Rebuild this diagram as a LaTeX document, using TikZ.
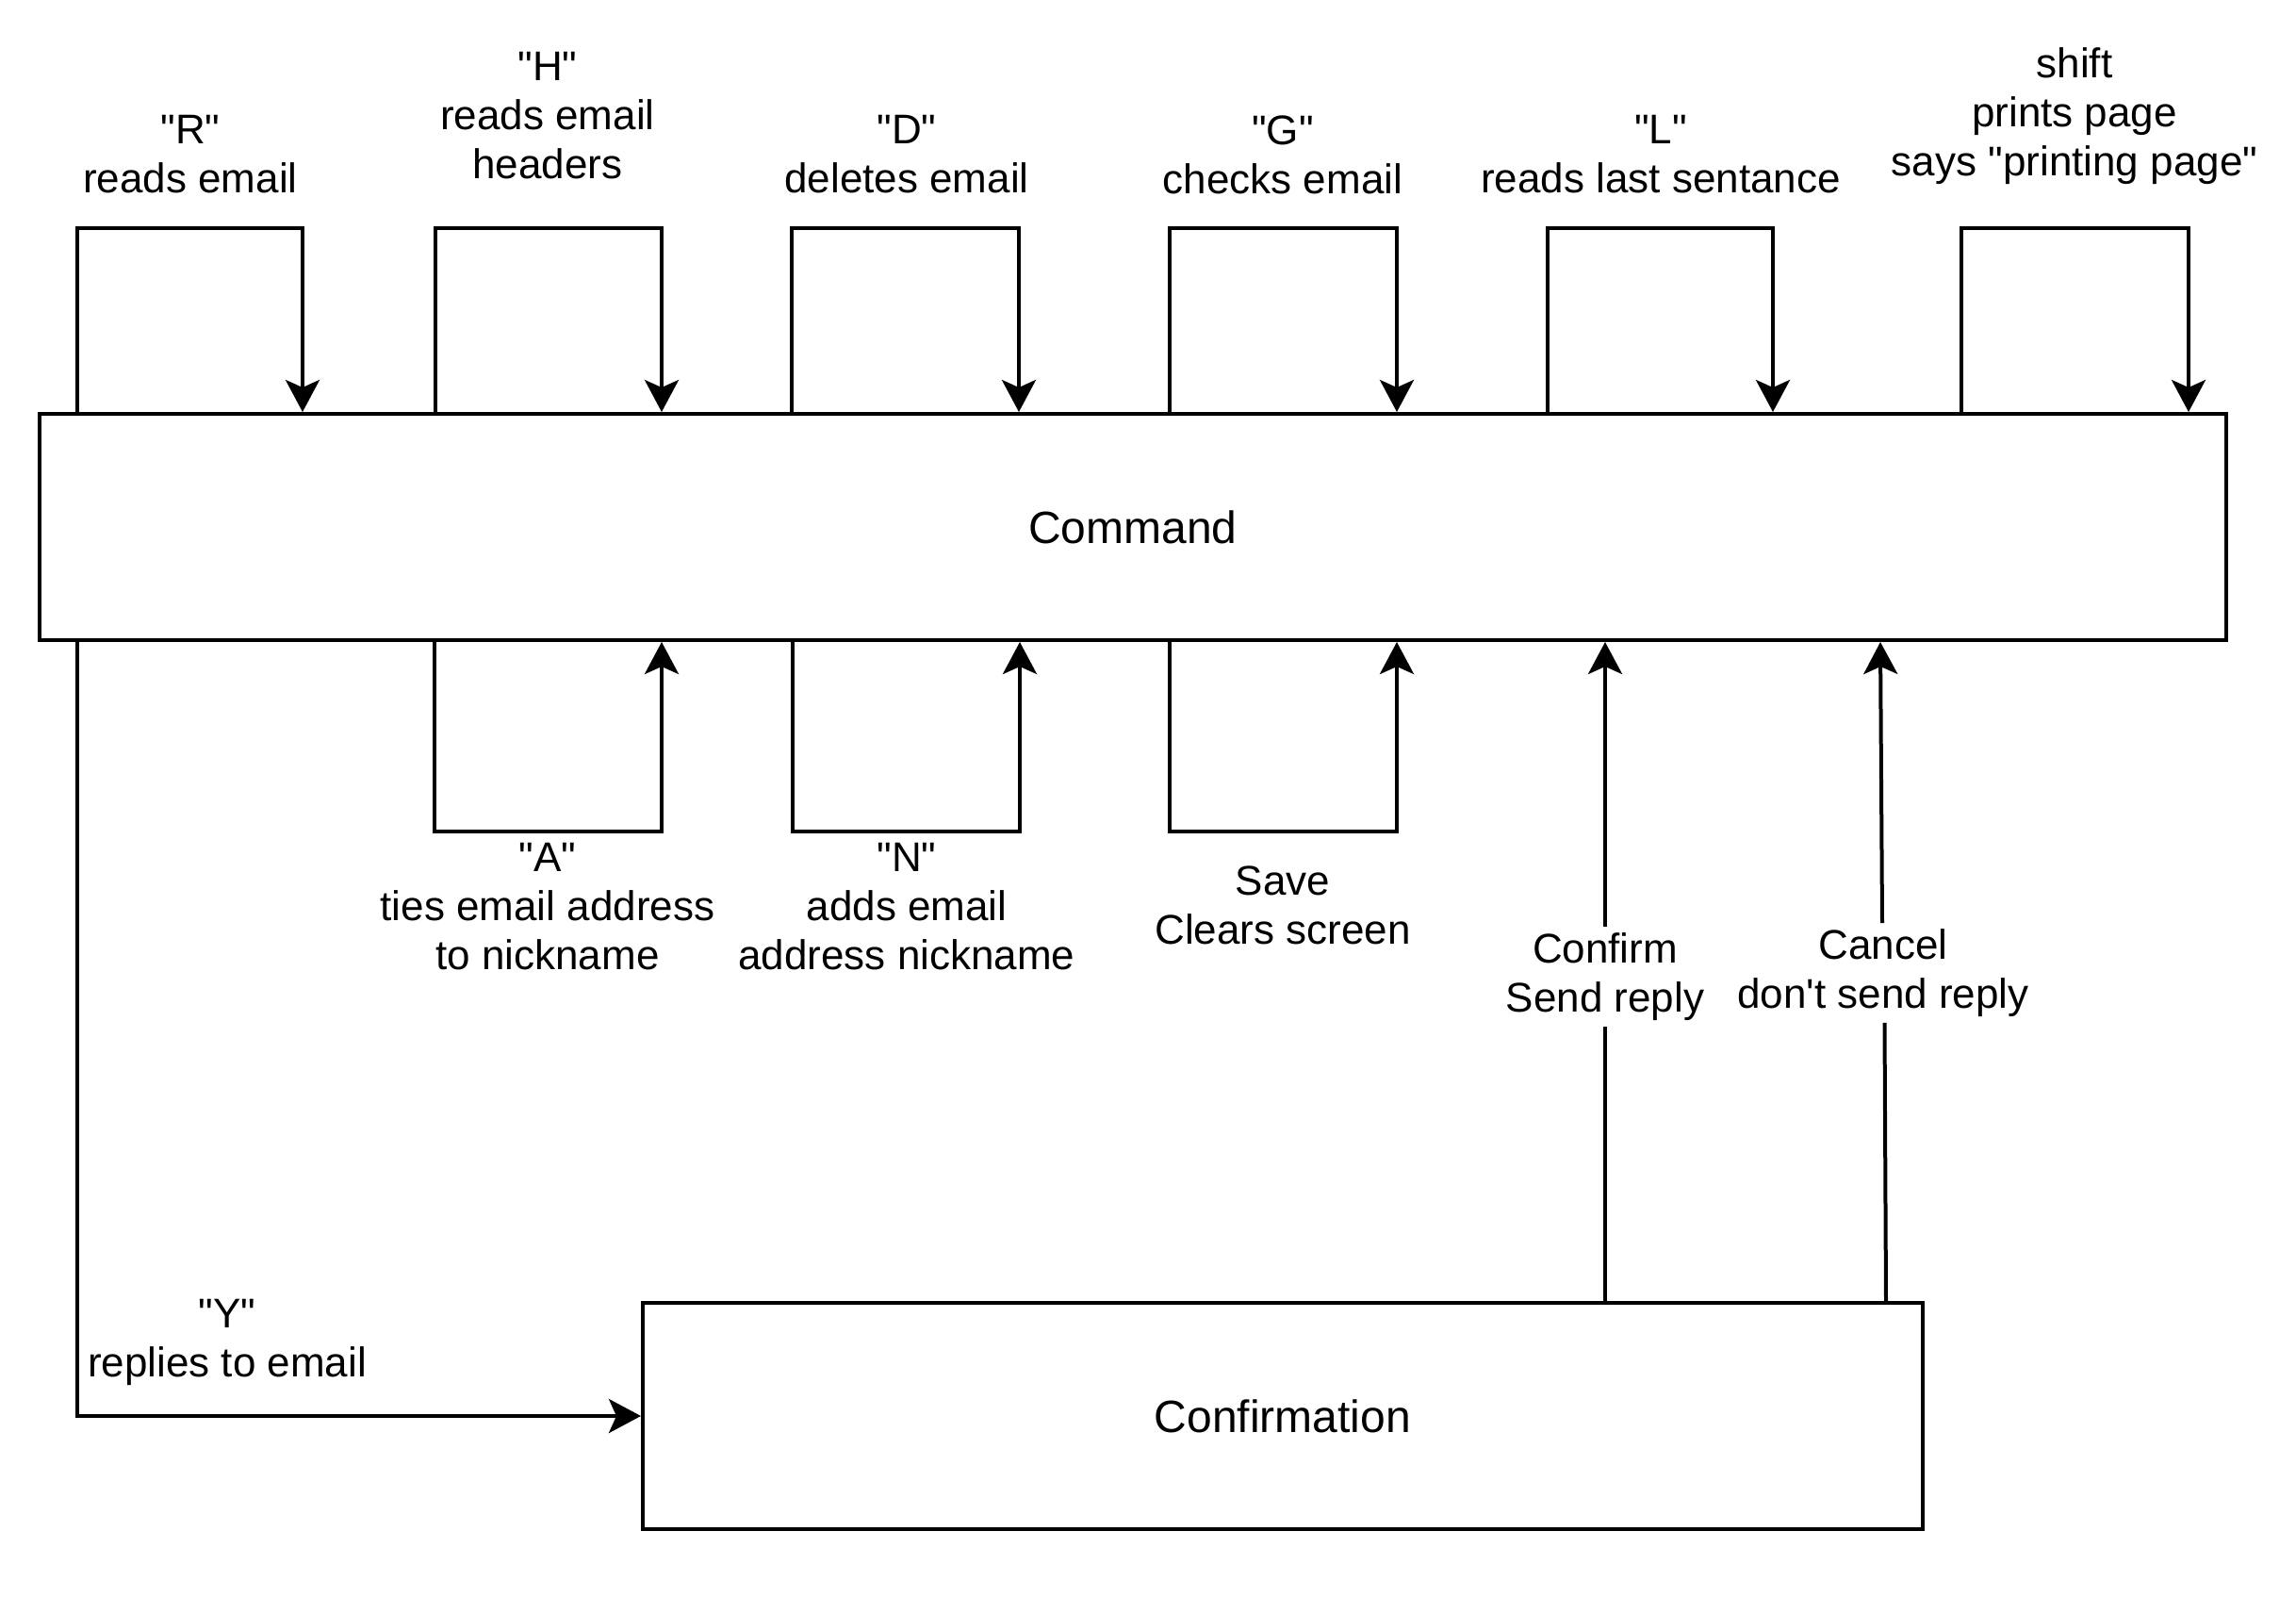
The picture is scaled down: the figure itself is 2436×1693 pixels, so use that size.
\documentclass[tikz,border=0pt]{standalone}
\usepackage{fontspec}
% plain family: keeps straight quotes and apostrophes
\newfontfamily\lsans{Liberation Sans}
\usetikzlibrary{arrows.meta}

\begin{document}
\begin{tikzpicture}[x=0.5pt,y=-0.5pt,
  every node/.style={font=\lsans\fontsize{22pt}{26pt}\selectfont},
  box/.style={draw,line width=2pt,rectangle,minimum height=120pt,inner sep=0pt,
    font=\lsans\fontsize{24pt}{28pt}\selectfont},
  lbl/.style={align=center,inner sep=0pt},
  wire/.style={line width=2pt},
  arr/.style={wire,-{Stealth[length=17pt,width=18pt,inset=4pt]}}]

\useasboundingbox (0,0) rectangle (2436,1693);

% main boxes
\node[box,minimum width=1160pt] (cmd) at (1202,559) {Command};
\node[box,minimum width=679pt] (conf) at (1361,1502) {Confirmation};

% self loops above the Command box
\foreach \n/\a/\b in {R/82/321, H/462/702, D/840/1081, G/1241/1482, L/1642/1881, S/2081/2322}{
  \coordinate (\n1) at (\a,242);
  \coordinate (\n2) at (\b,242);
  \draw[arr] (\n1 |- cmd.north) -- (\n1) -- (\n2) -- (\n2 |- cmd.north);
}

% self loops below the Command box
\foreach \n/\a/\b in {A/461/702, N/841/1082, V/1241/1482}{
  \coordinate (\n1) at (\a,882);
  \coordinate (\n2) at (\b,882);
  \draw[arr] (\n1 |- cmd.south) -- (\n1) -- (\n2) -- (\n2 |- cmd.south);
}

% labels of the loops
\node[lbl] (lR) at (202,164) {"R"\\reads email};
\node[lbl] (lH) at (581,123) {"H"\\reads email\\headers};
\node[lbl] (lD) at (962,164) {"D"\\deletes email};
\node[lbl] (lG) at (1361,164) {"G"\\checks email};
\node[lbl] (lL) at (1762,164) {"L"\\reads last sentance};
\node[lbl] (lS) at (2201,123) {shift\\prints page\\says "printing page"};
\node[lbl] (lA) at (581,962) {"A"\\ties email address\\to nickname};
\node[lbl] (lN) at (962,962) {"N"\\adds email\\address nickname};
\node[lbl] (lV) at (1361,960) {Save\\Clears screen};

% reply path from Command to Confirmation
\coordinate (y1) at (82,1502);
\draw[arr] (y1 |- cmd.south) -- (y1) -- (conf.west);
\node[lbl] (lY) at (241,1424) {"Y"\\replies to email};

% returns from Confirmation to Command
\coordinate (c1) at (1703,0);
\coordinate (k1) at (2001,0);
\coordinate (k2) at (1995,0);
\node[lbl,fill=white,inner sep=3pt] (lC) at (1703,1036) {Confirm\\Send reply};
\node[lbl,fill=white,inner sep=3pt] (lK) at (1998,1032) {Cancel\\don't send reply};
\draw[wire] (c1 |- conf.north) -- (lC.south);
\draw[arr] (lC.north) -- (c1 |- cmd.south);
\draw[wire] (k1 |- conf.north) -- (lK.south -| 1999.5,0);
\draw[arr] (lK.north -| 1997,0) -- (k2 |- cmd.south);

\end{tikzpicture}
\end{document}
